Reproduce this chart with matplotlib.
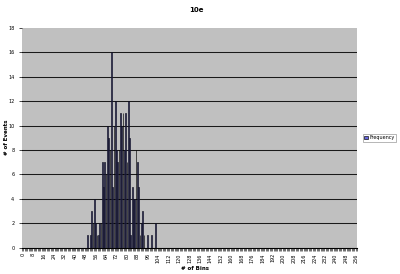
import matplotlib
matplotlib.use("Agg")
import matplotlib.pyplot as plt
import numpy as np

# histogram of bins 0..256, only 50..102 are non-zero
n_bins = 257
first_bin = 50
counts = [1, 0, 1, 3, 2, 4, 2, 1, 1, 2,
          2, 7, 5, 7, 6, 10, 9, 8, 16, 5,
          10, 12, 8, 7, 8, 11, 10, 11, 8, 11,
          7, 12, 9, 1, 5, 4, 4, 8, 7, 5,
          1, 2, 3, 1, 0, 0, 1, 0, 0, 1,
          0, 0, 2]
label_step = 8
y_ticks = [0, 2, 4, 6, 8, 10, 12, 14, 16, 18]

bins = np.arange(n_bins)
freq = np.zeros(n_bins)
freq[first_bin:first_bin + len(counts)] = counts

fig = plt.figure(figsize=(4, 2.74), dpi=100)
ax = fig.add_axes([22/400, 1 - 247.6/274, 335/400, (247.6-28)/274])
ax.set_facecolor('#c0c0c0')

ax.bar(bins, freq, width=0.55, color='#6666dd', edgecolor='black',
       linewidth=0.45, label='Frequency', zorder=3)

ax.set_xlim(-0.5, n_bins - 0.5)
ax.set_ylim(0, 18)
ax.set_yticks(y_ticks)
ax.tick_params(axis='y', labelsize=3.5, length=2.5, width=0.5, pad=3)
for y in y_ticks[1:-1]:
    ax.axhline(y, color='#1a1a1a', lw=0.75, zorder=1)

ax.set_xticks(bins[::label_step])
ax.set_xticklabels([str(b) for b in bins[::label_step]], rotation=90)
ax.tick_params(axis='x', labelsize=3.5, length=0, pad=4)
ax.set_xticks(np.arange(-0.5, n_bins, 1), minor=True)
ax.tick_params(axis='x', which='minor', length=2, width=0.4)

for s in ['top', 'right', 'left']:
    ax.spines[s].set_visible(False)
ax.spines['bottom'].set_linewidth(0.8)

fig.text(0.49, 0.975, '10e', ha='center', va='top', fontsize=5, fontweight='bold')
fig.text(0.488, 0.01, '# of Bins', ha='center', va='bottom', fontsize=4, fontweight='bold')
fig.text(0.01, 0.5, '# of Events', ha='left', va='center', rotation=90,
         fontsize=4, fontweight='bold')

leg = ax.legend(loc='center left', bbox_to_anchor=(1.01, 0.5), fontsize=3.5,
                frameon=True, fancybox=False, edgecolor='#808080',
                handlelength=0.8, handleheight=0.8, borderpad=0.3, handletextpad=0.3)
leg.get_frame().set_linewidth(0.5)

fig.savefig('out.png', dpi=100)
